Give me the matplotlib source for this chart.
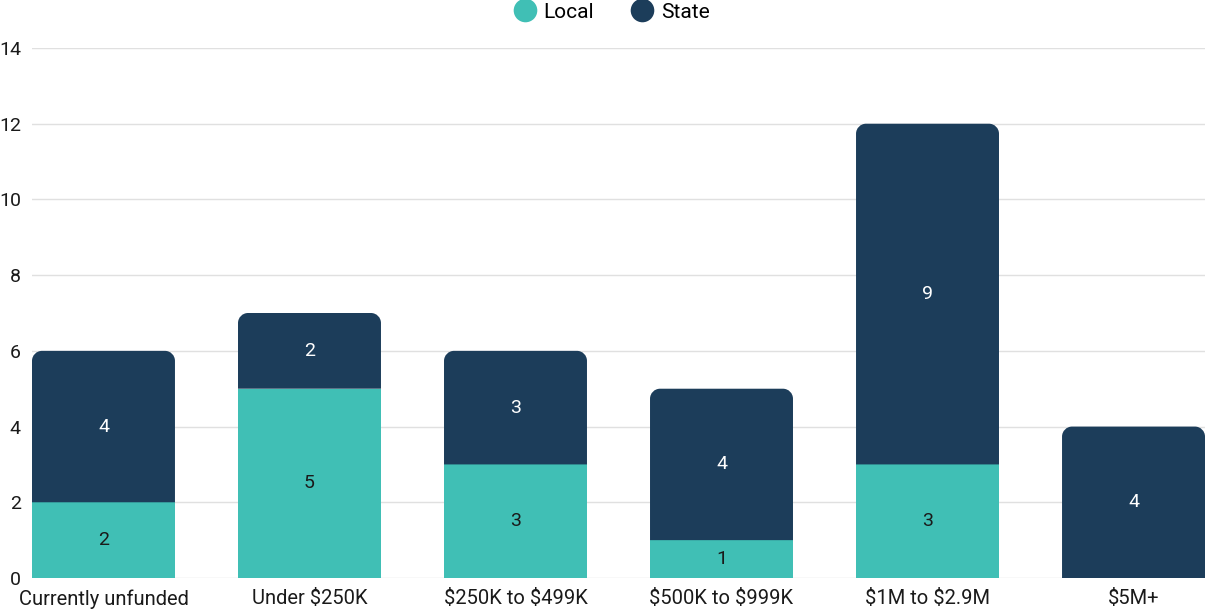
import matplotlib
matplotlib.use('Agg')
from matplotlib import pyplot as plt
from matplotlib.path import Path
from matplotlib.patches import PathPatch
from matplotlib.lines import Line2D

categories = ['Currently unfunded', 'Under \\$250K', '\\$250K to \\$499K',
              '\\$500K to \\$999K', '\\$1M to \\$2.9M', '\\$5M+']
local = [2, 5, 3, 1, 3, 0]
state = [4, 2, 3, 4, 9, 4]

teal = '#40bfb5'
navy = '#1c3d5a'
plt.rcParams['font.family'] = ['Roboto', 'DejaVu Sans']

W, H = 1205, 612
fig = plt.figure(figsize=(W / 100, H / 100), dpi=100)
ax = fig.add_axes([32 / W, 1 - 578 / H, 1 - 32 / W, (578 - 48) / H])

bw = 0.694
ax.set_xlim(-bw / 2, len(categories) - 1 + bw / 2)
ax.set_ylim(0, 14)

# pixel -> data scale for rounded corners
px_x = (len(categories) - 1 + bw) / (W - 32)
px_y = 14 / (578 - 48)
r = 10
rx, ry = r * px_x, r * px_y


def rounded_top(x0, y0, w, h):
    k = 0.5523
    x1, y1 = x0 + w, y0 + h
    verts = [(x0, y0), (x1, y0), (x1, y1 - ry),
             (x1, y1 - ry + k * ry), (x1 - rx + k * rx, y1), (x1 - rx, y1),
             (x0 + rx, y1),
             (x0 + rx - k * rx, y1), (x0, y1 - ry + k * ry), (x0, y1 - ry),
             (x0, y0)]
    codes = [Path.MOVETO, Path.LINETO, Path.LINETO,
             Path.CURVE4, Path.CURVE4, Path.CURVE4,
             Path.LINETO,
             Path.CURVE4, Path.CURVE4, Path.CURVE4,
             Path.CLOSEPOLY]
    return PathPatch(Path(verts, codes), facecolor=navy, edgecolor='none', zorder=3)


for i, (lv, sv) in enumerate(zip(local, state)):
    if lv > 0:
        ax.bar(i, lv, width=bw, color=teal, zorder=3)
        ax.text(i, lv / 2, str(lv), ha='center', va='center', fontsize=14,
                color='#1a1a1a', zorder=4)
    if sv > 0:
        ax.add_patch(rounded_top(i - bw / 2, lv, bw, sv))
        ax.text(i, lv + sv / 2, str(sv), ha='center', va='center', fontsize=14,
                color='white', zorder=4)

ax.set_yticks(range(0, 15, 2))
ax.set_xticks(range(len(categories)))
ax.set_xticklabels(categories)
ax.grid(axis='y', color='#e0e0e0', linewidth=1, zorder=0)
ax.set_axisbelow(True)
for s in ax.spines.values():
    s.set_visible(False)
ax.tick_params(axis='both', length=0, labelsize=14.5, colors='#1a1a1a')
ax.tick_params(axis='y', labelsize=14, pad=8)
ax.tick_params(axis='x', pad=8)

handles = [Line2D([], [], marker='o', linestyle='none', markersize=17,
                  markerfacecolor=teal, markeredgecolor='none', label='Local'),
           Line2D([], [], marker='o', linestyle='none', markersize=17,
                  markerfacecolor=navy, markeredgecolor='none', label='State')]
fig.legend(handles=handles, loc='center', bbox_to_anchor=(611 / W, 1 - 12 / H),
           ncol=2, frameon=False, fontsize=15, handletextpad=0.3,
           columnspacing=1.7, handlelength=1.2)

fig.savefig('out.png', dpi=100)
